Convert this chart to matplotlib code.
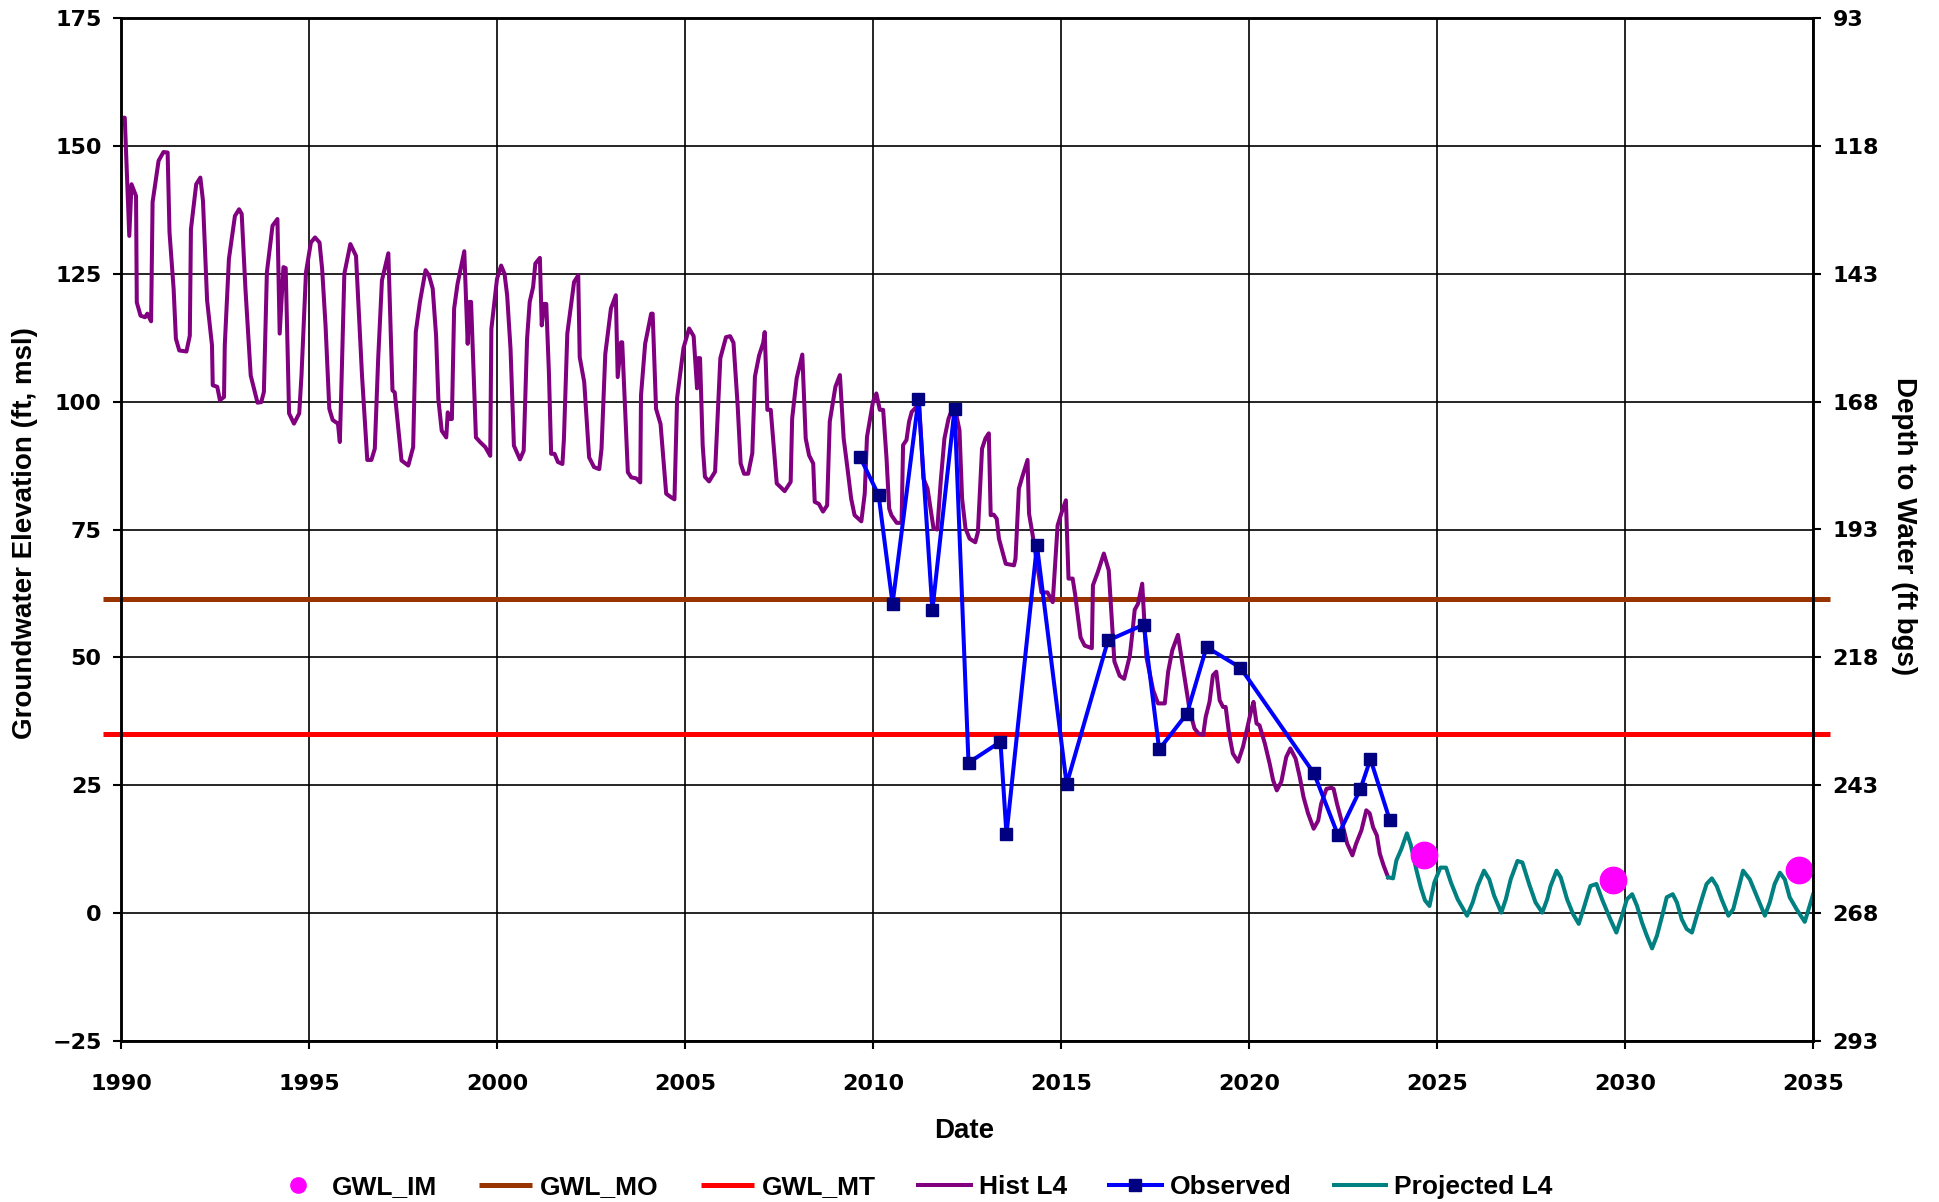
import matplotlib
matplotlib.use("Agg")
import matplotlib.pyplot as plt
from matplotlib.lines import Line2D

# --- data (decimal year, ft msl) ---
hist_year = [
    1990.04, 1990.10, 1990.22, 1990.28, 1990.40, 1990.42, 1990.52, 1990.64, 1990.70, 1990.80,
    1990.84, 1991.00, 1991.13, 1991.24, 1991.29, 1991.40, 1991.46, 1991.55, 1991.74, 1991.83,
    1991.86, 1992.00, 1992.11, 1992.18, 1992.29, 1992.42, 1992.44, 1992.56, 1992.63, 1992.74,
    1992.76, 1992.87, 1993.03, 1993.14, 1993.21, 1993.31, 1993.45, 1993.63, 1993.73, 1993.80,
    1993.88, 1994.03, 1994.16, 1994.22, 1994.32, 1994.38, 1994.47, 1994.60, 1994.74, 1994.80,
    1994.92, 1995.05, 1995.16, 1995.28, 1995.35, 1995.44, 1995.54, 1995.63, 1995.77, 1995.82,
    1995.86, 1995.94, 1996.10, 1996.25, 1996.32, 1996.41, 1996.55, 1996.66, 1996.75, 1996.84,
    1996.94, 1997.11, 1997.22, 1997.28, 1997.46, 1997.64, 1997.77, 1997.84, 1997.95, 1998.10,
    1998.19, 1998.29, 1998.38, 1998.44, 1998.53, 1998.65, 1998.69, 1998.75, 1998.80, 1998.86,
    1998.95, 1999.13, 1999.22, 1999.27, 1999.31, 1999.44, 1999.55, 1999.69, 1999.82, 1999.85,
    2000.00, 2000.11, 2000.20, 2000.27, 2000.36, 2000.45, 2000.61, 2000.71, 2000.80, 2000.87,
    2000.96, 2001.02, 2001.14, 2001.19, 2001.25, 2001.31, 2001.38, 2001.44, 2001.53, 2001.62,
    2001.74, 2001.78, 2001.87, 2001.98, 2002.05, 2002.16, 2002.20, 2002.32, 2002.45, 2002.58,
    2002.72, 2002.78, 2002.88, 2003.03, 2003.16, 2003.21, 2003.30, 2003.33, 2003.48, 2003.57,
    2003.70, 2003.81, 2003.83, 2003.94, 2004.10, 2004.14, 2004.23, 2004.35, 2004.50, 2004.63,
    2004.72, 2004.79, 2004.96, 2005.11, 2005.23, 2005.32, 2005.35, 2005.40, 2005.47, 2005.53,
    2005.64, 2005.80, 2005.94, 2006.09, 2006.20, 2006.29, 2006.40, 2006.48, 2006.57, 2006.68,
    2006.79, 2006.86, 2006.97, 2007.08, 2007.12, 2007.19, 2007.28, 2007.44, 2007.54, 2007.65,
    2007.81, 2007.85, 2007.97, 2008.12, 2008.21, 2008.30, 2008.41, 2008.45, 2008.56, 2008.67,
    2008.78, 2008.85, 2009.00, 2009.12, 2009.22, 2009.31, 2009.42, 2009.51, 2009.69, 2009.78,
    2009.84, 2010.00, 2010.09, 2010.18, 2010.27, 2010.36, 2010.43, 2010.49, 2010.63, 2010.76,
    2010.80, 2010.89, 2010.96, 2011.03, 2011.16, 2011.23, 2011.34, 2011.45, 2011.61, 2011.71,
    2011.80, 2011.90, 2012.01, 2012.10, 2012.19, 2012.30, 2012.37, 2012.46, 2012.57, 2012.72,
    2012.79, 2012.90, 2012.99, 2013.08, 2013.13, 2013.21, 2013.29, 2013.35, 2013.53, 2013.75,
    2013.79, 2013.88, 2013.97, 2014.11, 2014.15, 2014.24, 2014.48, 2014.64, 2014.78, 2014.91,
    2015.02, 2015.13, 2015.20, 2015.31, 2015.38, 2015.52, 2015.63, 2015.82, 2015.85, 2015.98,
    2016.14, 2016.27, 2016.34, 2016.42, 2016.56, 2016.68, 2016.83, 2016.90, 2016.96, 2017.05,
    2017.16, 2017.27, 2017.45, 2017.58, 2017.76, 2017.85, 2017.96, 2018.11, 2018.20, 2018.32,
    2018.42, 2018.55, 2018.66, 2018.78, 2018.85, 2018.95, 2019.04, 2019.13, 2019.22, 2019.31,
    2019.38, 2019.47, 2019.57, 2019.71, 2019.84, 2019.93, 2020.06, 2020.12, 2020.20, 2020.28,
    2020.42, 2020.55, 2020.64, 2020.74, 2020.86, 2020.99, 2021.10, 2021.24, 2021.35, 2021.45,
    2021.57, 2021.72, 2021.84, 2021.92, 2022.06, 2022.19, 2022.25, 2022.34, 2022.46, 2022.61,
    2022.75, 2022.85, 2022.99, 2023.12, 2023.21, 2023.30, 2023.40, 2023.48, 2023.58, 2023.70,
]
hist_gwl = [
    155.5, 155.5, 132.4, 142.5, 140.2, 119.4, 116.8, 116.5, 117.2, 115.7,
    139.0, 147.1, 148.8, 148.7, 133.1, 122.0, 112.3, 110.0, 109.8, 112.9,
    133.7, 142.5, 143.8, 139.3, 119.8, 111.0, 103.2, 102.9, 100.3, 100.9,
    111.0, 127.9, 136.3, 137.6, 136.7, 122.0, 105.1, 99.8, 99.9, 101.9,
    125.3, 134.4, 135.7, 113.3, 126.3, 126.1, 97.7, 95.7, 97.7, 105.1,
    125.3, 131.1, 132.1, 131.1, 125.9, 114.9, 98.6, 96.4, 95.7, 92.1,
    102.5, 125.0, 130.8, 128.5, 118.1, 105.1, 88.6, 88.6, 90.8, 108.4,
    123.7, 129.0, 102.2, 101.8, 88.5, 87.5, 91.1, 113.6, 119.5, 125.7,
    124.7, 122.1, 112.9, 100.5, 94.3, 93.0, 97.9, 96.6, 96.6, 118.2,
    123.0, 129.4, 111.3, 119.5, 119.5, 93.0, 92.1, 91.1, 89.4, 114.2,
    124.0, 126.6, 125.0, 120.8, 110.3, 91.4, 88.7, 90.4, 112.3, 119.5,
    122.4, 127.0, 128.1, 114.9, 119.1, 119.1, 105.8, 89.8, 89.8, 88.2,
    87.8, 92.7, 113.3, 119.5, 123.4, 124.7, 108.7, 103.8, 89.1, 87.2,
    86.8, 90.8, 109.3, 118.2, 120.8, 104.8, 111.6, 111.6, 86.2, 85.2,
    85.0, 84.2, 101.2, 111.3, 117.2, 117.2, 98.6, 95.6, 82.0, 81.3,
    80.9, 100.7, 110.5, 114.3, 112.8, 102.6, 108.5, 108.5, 91.5, 85.3,
    84.4, 86.3, 108.5, 112.6, 112.8, 111.5, 99.3, 87.9, 85.9, 85.9,
    89.9, 104.9, 109.0, 111.5, 113.6, 98.4, 98.4, 84.0, 83.3, 82.5,
    84.3, 96.7, 104.6, 109.2, 92.8, 89.5, 87.9, 80.4, 80.0, 78.5,
    79.7, 96.1, 102.9, 105.2, 92.8, 87.6, 81.0, 77.8, 76.6, 82.0,
    93.1, 100.0, 101.6, 98.4, 98.4, 88.9, 79.1, 77.8, 76.3, 76.3,
    91.5, 92.5, 96.1, 98.0, 99.0, 99.3, 85.0, 83.0, 75.2, 75.0,
    84.3, 92.8, 96.7, 98.4, 98.4, 94.4, 81.0, 75.2, 73.2, 72.5,
    74.5, 90.8, 92.8, 93.8, 77.8, 77.9, 77.1, 73.2, 68.3, 68.0,
    69.3, 83.0, 85.3, 88.6, 78.1, 74.2, 62.7, 62.7, 60.8, 75.8,
    78.4, 80.7, 65.4, 65.4, 62.1, 53.9, 52.3, 51.8, 64.1, 66.7,
    70.3, 67.0, 58.8, 49.2, 46.4, 45.8, 50.3, 54.9, 59.3, 60.5,
    64.4, 50.1, 43.6, 41.0, 41.0, 47.2, 51.4, 54.4, 50.1, 44.3,
    39.7, 36.1, 35.1, 34.8, 38.4, 41.3, 46.5, 47.2, 41.6, 40.3,
    40.3, 35.1, 31.2, 29.6, 32.5, 35.4, 39.7, 41.3, 37.1, 36.7,
    33.2, 29.2, 26.0, 24.0, 25.7, 30.5, 32.2, 30.2, 26.6, 22.7,
    19.5, 16.5, 18.1, 21.4, 24.3, 24.5, 24.3, 21.4, 18.1, 13.6,
    11.3, 13.6, 16.2, 20.1, 19.5, 16.8, 15.2, 11.6, 9.3, 7.0,
]

obs_year = [2009.66, 2010.15, 2010.52, 2011.21, 2011.58, 2012.17, 2012.54, 2013.39, 2013.55,
            2014.36, 2015.15, 2016.25, 2017.20, 2017.61, 2018.35, 2018.87, 2019.77, 2021.73,
            2022.37, 2022.96, 2023.23, 2023.74]
obs_gwl = [89.1, 81.7, 60.5, 100.5, 59.3, 98.6, 29.4, 33.5, 15.4,
           71.9, 25.2, 53.3, 56.4, 32.0, 39.0, 52.0, 48.0, 27.3,
           15.2, 24.2, 30.1, 18.3]

proj_year = [
    2023.70, 2023.83, 2023.92, 2024.05, 2024.20, 2024.30, 2024.45, 2024.57, 2024.68, 2024.80,
    2024.93, 2025.09, 2025.24, 2025.37, 2025.55, 2025.80, 2025.95, 2026.08, 2026.25, 2026.39,
    2026.52, 2026.71, 2026.83, 2026.96, 2027.14, 2027.27, 2027.45, 2027.62, 2027.80, 2027.93,
    2028.02, 2028.18, 2028.29, 2028.46, 2028.62, 2028.77, 2028.92, 2029.08, 2029.24, 2029.39,
    2029.61, 2029.77, 2029.92, 2030.05, 2030.19, 2030.32, 2030.45, 2030.58, 2030.72, 2030.85,
    2031.01, 2031.11, 2031.27, 2031.38, 2031.51, 2031.64, 2031.78, 2031.91, 2032.07, 2032.17,
    2032.31, 2032.44, 2032.57, 2032.75, 2032.88, 2032.97, 2033.14, 2033.32, 2033.50, 2033.72,
    2033.85, 2033.98, 2034.12, 2034.25, 2034.38, 2034.56, 2034.78, 2034.91, 2035.00,
]
proj_gwl = [
    7.0, 6.8, 10.3, 12.5, 15.6, 13.4, 8.5, 5.0, 2.5, 1.4,
    6.0, 8.9, 8.9, 6.0, 2.7, -0.5, 2.1, 5.3, 8.3, 6.6,
    3.4, 0.1, 2.7, 6.6, 10.2, 9.9, 5.7, 2.1, 0.1, 2.7,
    5.3, 8.3, 7.0, 2.7, -0.2, -2.1, 1.4, 5.3, 5.7, 2.7,
    -1.2, -3.8, -0.5, 2.7, 3.7, 1.4, -1.8, -4.4, -6.9, -4.4,
    0.1, 3.1, 3.7, 2.1, -1.2, -3.1, -3.8, -0.5, 3.4, 5.7,
    6.8, 5.3, 2.7, -0.5, 0.8, 3.4, 8.3, 6.6, 3.4, -0.5,
    2.1, 5.7, 7.9, 6.6, 3.1, 0.8, -1.7, 1.4, 3.6,
]

im_year = [2024.66, 2029.68, 2034.63]
im_gwl = [11.4, 6.4, 8.5]

threshold_span = [1989.52, 2035.45]
gwl_mo = 61.5
gwl_mt = 35.0
ground_elev = 268  # depth to water = ground_elev - elevation

TICK_FONT = {"family": "DejaVu Sans", "weight": "bold", "size": 16}
LABEL_FONT = ["Liberation Sans", "DejaVu Sans"]

W, H = 1939, 1202
fig = plt.figure(figsize=(W / 100, H / 100), dpi=100)
ax = fig.add_axes([121 / W, 1 - 1041 / H, (1813 - 121) / W, (1041 - 18) / H])

# thresholds (drawn slightly past the plot edges like the original)
ax.plot(threshold_span, [gwl_mo, gwl_mo], color="#993300", lw=3.6, clip_on=False,
        zorder=2, label="GWL_MO", solid_capstyle="butt")
ax.plot(threshold_span, [gwl_mt, gwl_mt], color="#FF0000", lw=3.6, clip_on=False,
        zorder=2, label="GWL_MT", solid_capstyle="butt")

ax.plot(hist_year, hist_gwl, color="#800080", lw=2.9, zorder=3, label="Hist L4")
ax.plot(obs_year, obs_gwl, color="#0000FF", lw=2.9, marker="s", ms=8,
        mfc="#000080", mec="#000080", zorder=4, label="Observed")
ax.plot(proj_year, proj_gwl, color="#008080", lw=2.9, zorder=3, label="Projected L4")
ax.plot(im_year, im_gwl, ls="none", marker="o", ms=19, color="#FF00FF",
        zorder=5, label="GWL_IM", clip_on=False)

ax.set_xlim(1990, 2035)
ax.set_ylim(-25, 175)
ax.set_xticks(range(1990, 2036, 5))
ax.set_yticks(range(-25, 176, 25))
ax.grid(True, color="black", lw=1.2)
ax.set_axisbelow(True)
for s in ax.spines.values():
    s.set_linewidth(1.8)
ax.tick_params(axis="both", direction="out", length=6, width=1.5)
ax.tick_params(axis="y", pad=8)
ax.tick_params(axis="x", pad=18)
for lab in ax.get_xticklabels() + ax.get_yticklabels():
    lab.set_fontproperties(TICK_FONT)

ax2 = ax.twinx()
ax2.set_ylim(ground_elev + 25, ground_elev - 175)
ax2.set_yticks(range(ground_elev - 175, ground_elev + 26, 25))
ax2.tick_params(axis="y", direction="out", length=6, width=1.5, pad=8)
for lab in ax2.get_yticklabels():
    lab.set_fontproperties(TICK_FONT)
for s in ax2.spines.values():
    s.set_linewidth(1.8)

fig.text(25 / W, 1 - 533 / H, "Groundwater Elevation (ft, msl)", rotation=90,
         ha="center", va="center", family=LABEL_FONT, weight="bold", fontsize=20)
fig.text(1904 / W, 1 - 526 / H, "Depth to Water (ft bgs)", rotation=270,
         ha="center", va="center", family=LABEL_FONT, weight="bold", fontsize=20)
fig.text(964 / W, 1 - 1131 / H, "Date", ha="center", va="center",
         family=LABEL_FONT, weight="bold", fontsize=20)

# legend in original order
hmap = {l.get_label(): l for l in ax.get_lines()}
order = ["GWL_IM", "GWL_MO", "GWL_MT", "Hist L4", "Observed", "Projected L4"]
handles = [hmap[k] for k in order]
handles[0] = Line2D([], [], ls="none", marker="o", ms=11, color="#FF00FF")
fig.legend(handles, order, loc="center", bbox_to_anchor=(912 / W, 1 - 1187 / H),
           ncol=6, frameon=False, handlelength=2.0, handletextpad=0.3,
           columnspacing=1.6, prop={"family": LABEL_FONT, "weight": "bold", "size": 19})

fig.savefig("out.png", dpi=100)
